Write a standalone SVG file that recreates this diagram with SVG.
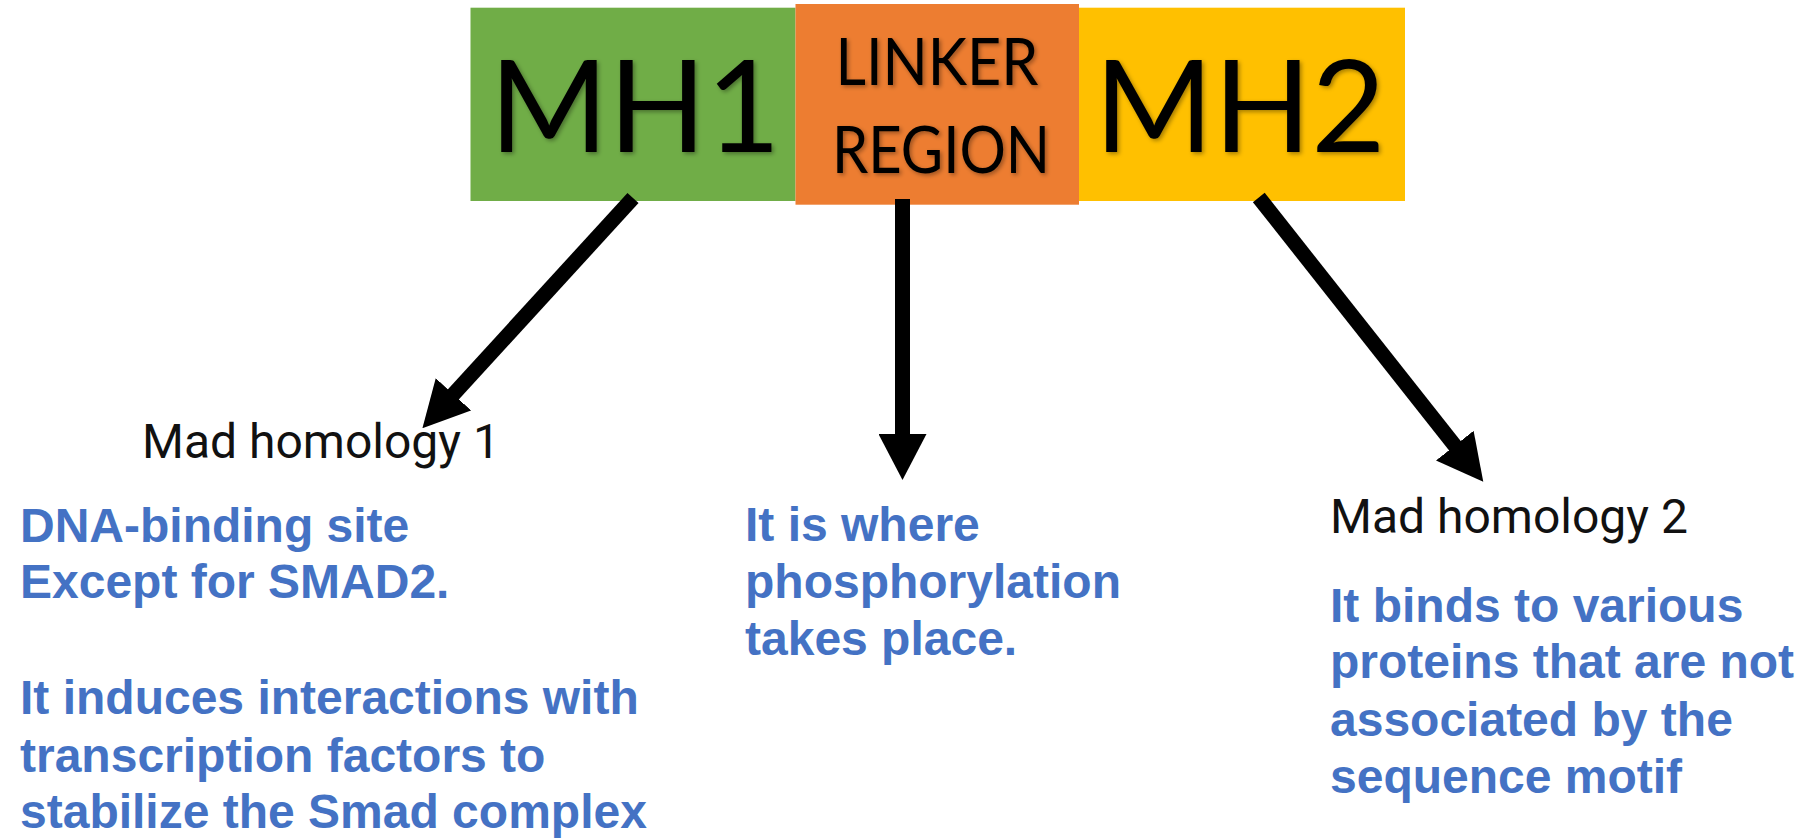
<svg xmlns="http://www.w3.org/2000/svg" width="1813" height="838" viewBox="0 0 1813 838">
  <style>
    .domain-title { font-family: Lato, "Open Sans", sans-serif; fill: #000; text-anchor: middle; filter: url(#softShadow); }
    .big { font-size: 128px; }
    .small { font-size: 65px; }
    .caption { font-family: Roboto, "Liberation Sans", sans-serif; font-size: 48px; fill: #111; }
    .note { font-family: "Liberation Sans", Arial, sans-serif; font-weight: bold; font-size: 48px; fill: #4472C4; }
    .arrow { stroke: #000; stroke-width: 15; stroke-linecap: butt; fill: none; marker-end: url(#head); }
  </style>
  <defs>
    <filter id="softShadow" x="-10%" y="-10%" width="120%" height="130%">
      <feDropShadow dx="2" dy="2" stdDeviation="2" flood-color="#000" flood-opacity="0.35"/>
    </filter>
    <marker id="head" markerUnits="userSpaceOnUse" viewBox="0 0 46 48" markerWidth="46" markerHeight="48" refX="2" refY="24" orient="auto">
      <path d="M0,0 L46,24 L0,48 Z" fill="#000"/>
    </marker>
  </defs>

  <rect width="1813" height="838" fill="#fff"/>

  <!-- Protein domains -->
  <g id="mh1">
    <rect x="470.5" y="7.7" width="325" height="193.3" fill="#70AD47"/>
    <text class="domain-title big" x="635" y="152">MH1</text>
  </g>
  <g id="mh2">
    <rect x="1079" y="7.7" width="326" height="193.3" fill="#FFC000"/>
    <text class="domain-title big" x="1240" y="152">MH2</text>
  </g>
  <g id="linker">
    <rect x="795.5" y="4" width="283.5" height="200.7" fill="#ED7D31"/>
    <text class="domain-title small" x="937" y="85" textLength="203" lengthAdjust="spacingAndGlyphs">LINKER</text>
    <text class="domain-title small" x="941" y="173" textLength="218" lengthAdjust="spacingAndGlyphs">REGION</text>
  </g>

  <!-- Connectors -->
  <g id="connectors">
    <line class="arrow" x1="633" y1="198" x2="452.1" y2="395.8"/>
    <line class="arrow" x1="902.5" y1="199" x2="902.5" y2="436"/>
    <line class="arrow" x1="1258.8" y1="197.5" x2="1456" y2="447.2"/>
  </g>

  <!-- Descriptions -->
  <g id="mh1-notes">
    <text class="caption" x="142" y="458">Mad homology 1</text>
    <text class="note" x="20">
      <tspan x="20" y="541.7">DNA-binding site</tspan>
      <tspan x="20" y="598.3">Except for SMAD2.</tspan>
      <tspan x="20" y="714">It induces interactions with</tspan>
      <tspan x="20" y="771.7">transcription factors to</tspan>
      <tspan x="20" y="828.3">stabilize the Smad complex</tspan>
    </text>
  </g>
  <g id="linker-notes">
    <text class="note">
      <tspan x="745" y="540.7">It is where</tspan>
      <tspan x="745" y="597.5">phosphorylation</tspan>
      <tspan x="745" y="655">takes place.</tspan>
    </text>
  </g>
  <g id="mh2-notes">
    <text class="caption" x="1330" y="532.7">Mad homology 2</text>
    <text class="note">
      <tspan x="1330" y="621.7">It binds to various</tspan>
      <tspan x="1330" y="678.3">proteins that are not</tspan>
      <tspan x="1330" y="736">associated by the</tspan>
      <tspan x="1330" y="793">sequence motif</tspan>
    </text>
  </g>
</svg>
